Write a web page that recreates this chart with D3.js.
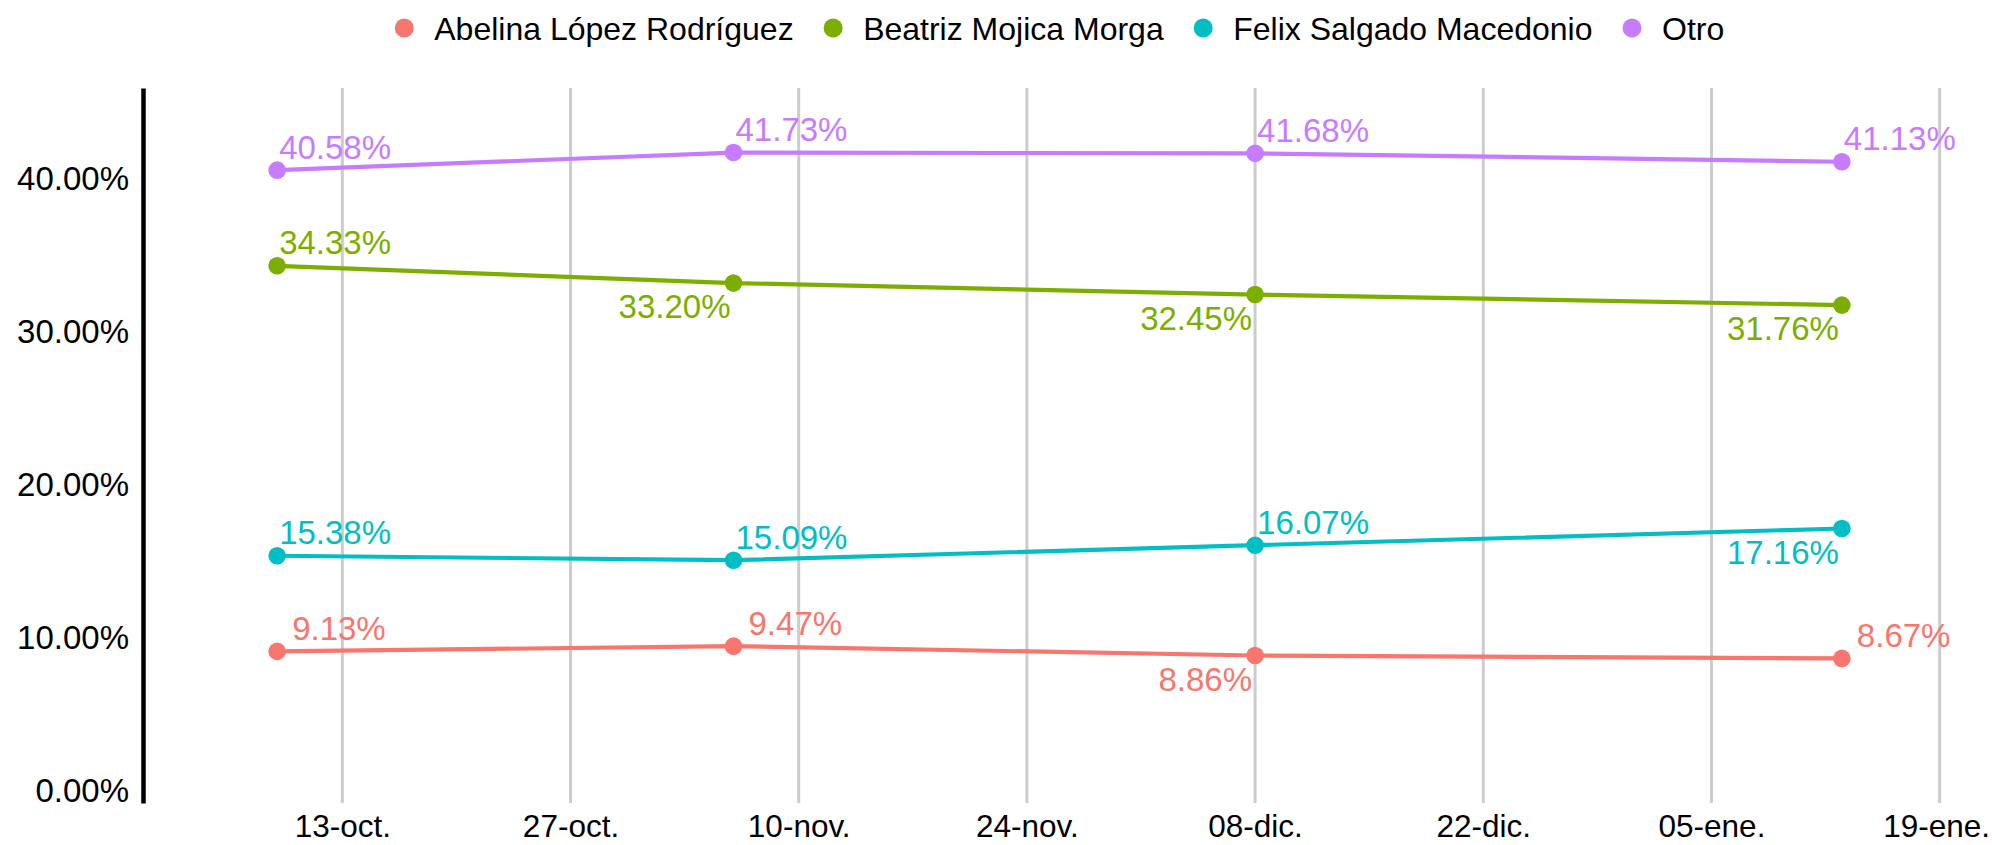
<!DOCTYPE html>
<html>
<head>
<meta charset="utf-8">
<script src="https://cdn.jsdelivr.net/npm/d3@7"></script>
<style>
  html, body { margin: 0; padding: 0; background: #fff; }
  svg { display: block; font-family: "Liberation Sans", Arial, sans-serif; }
</style>
</head>
<body>
<svg id="chart" width="1992" height="845"></svg>
<script>
// ---- data ----
const categories = ["Abelina López Rodríguez", "Beatriz Mojica Morga", "Felix Salgado Macedonio", "Otro"];
const dates = ["2020-10-09", "2020-11-06", "2020-12-08", "2021-01-13"];
const abelina = [9.13, 9.47, 8.86, 8.67];
const beatriz = [34.33, 33.20, 32.45, 31.76];
const felix = [15.38, 15.09, 16.07, 17.16];
const otro = [40.58, 41.73, 41.68, 41.13];
const tickDates = ["2020-10-13", "2020-10-27", "2020-11-10", "2020-11-24", "2020-12-08", "2020-12-22", "2021-01-05", "2021-01-19"];
const tickLabels = ["13-oct.", "27-oct.", "10-nov.", "24-nov.", "08-dic.", "22-dic.", "05-ene.", "19-ene."];
const yTicks = [0, 10, 20, 30, 40];

// ---- styling / layout ----
const colors = ["#F8766D", "#7CAE00", "#00BFC4", "#C77CFF"];
// label placement per point: "a" = above-right of point, "b" = below-left, "r" = above, shifted right
const placement = [
  ["r", "r", "b", "r"],
  ["a", "b", "b", "b"],
  ["a", "a", "a", "b"],
  ["a", "a", "a", "a"]
];
const series = [abelina, beatriz, felix, otro];

const W = 1992;
const svg = d3.select("#chart");
const parse = d3.utcParse("%Y-%m-%d");
const pLeft = 143, pRight = 1976, pTop = 88, pBottom = 803;

const x = d3.scaleUtc()
  .domain([new Date(Date.UTC(2020, 8, 30, 18, 29)), new Date(Date.UTC(2021, 0, 21, 5, 31))])
  .range([pLeft, pRight]);
const y = d3.scaleLinear().domain([-0.78, 45.95]).range([pBottom, pTop]);

// vertical grid lines
svg.append("g").selectAll("line")
  .data(tickDates.map(parse))
  .join("line")
  .attr("x1", d => x(d)).attr("x2", d => x(d))
  .attr("y1", pTop).attr("y2", pBottom)
  .attr("stroke", "#cccccc").attr("stroke-width", 3);

// x axis (labels only)
const xAxis = d3.axisBottom(x)
  .tickValues(tickDates.map(parse))
  .tickFormat((d, i) => tickLabels[i])
  .tickSize(0).tickPadding(12);
const gx = svg.append("g").attr("transform", `translate(0,${pBottom})`).call(xAxis);
gx.select(".domain").remove();
gx.selectAll("text").attr("font-size", 31.5).attr("fill", "#000")
  .attr("font-family", "Liberation Sans, Arial, sans-serif");
// keep the last label inside the picture
gx.selectAll(".tick").each(function () {
  const t = d3.select(this).select("text");
  const tr = this.getCTM();
  const b = t.node().getBBox();
  const rightEdge = tr.e + b.x + b.width;
  if (rightEdge > W - 2) t.attr("x", -(rightEdge - (W - 2)));
});

// y axis
const yAxis = d3.axisLeft(y)
  .tickValues(yTicks)
  .tickFormat(d => d3.format(".2f")(d) + "%")
  .tickSize(0).tickPadding(14);
const gy = svg.append("g").attr("transform", `translate(${pLeft},0)`).call(yAxis);
gy.select(".domain").attr("stroke", "#000").attr("stroke-width", 4.5);
gy.selectAll("text").attr("font-size", 33).attr("fill", "#000")
  .attr("font-family", "Liberation Sans, Arial, sans-serif");

// lines, points, labels
const line = d3.line().x(d => x(d.date)).y(d => y(d.v));
series.forEach((vals, si) => {
  const pts = vals.map((v, i) => ({ v, date: parse(dates[i]), p: placement[si][i] }));
  const g = svg.append("g");
  g.append("path").datum(pts)
    .attr("d", line).attr("fill", "none")
    .attr("stroke", colors[si]).attr("stroke-width", 4.2);
  g.selectAll("circle").data(pts).join("circle")
    .attr("cx", d => x(d.date)).attr("cy", d => y(d.v)).attr("r", 8.8)
    .attr("fill", colors[si]);
  g.selectAll("text").data(pts).join("text")
    .attr("x", d => x(d.date) + (d.p === "b" ? -3 : d.p === "r" ? 15 : 2))
    .attr("y", d => y(d.v) + (d.p === "b" ? 35 : -11.5))
    .attr("text-anchor", d => d.p === "b" ? "end" : "start")
    .attr("font-size", 33)
    .attr("fill", colors[si])
    .text(d => d3.format(".2f")(d.v) + "%");
});

// legend: laid out from measured text widths, centred over the panel
const lg = svg.append("g");
const keyR = 9.5, keyGap = 30, itemGap = 30;
let cursor = 0;
categories.forEach((c, i) => {
  const item = lg.append("g").attr("transform", `translate(${cursor},0)`);
  item.append("circle").attr("cx", keyR).attr("cy", 28).attr("r", keyR).attr("fill", colors[i]);
  const t = item.append("text").attr("x", keyR + keyGap).attr("y", 28).attr("dy", "0.36em")
    .attr("font-size", 32).attr("fill", "#000").text(c);
  const w = t.node().getComputedTextLength();
  cursor += keyR + keyGap + w + (i < categories.length - 1 ? itemGap : 0);
});
const centre = (pLeft + pRight) / 2;
lg.attr("transform", `translate(${centre - cursor / 2},0)`);
</script>
</body>
</html>
